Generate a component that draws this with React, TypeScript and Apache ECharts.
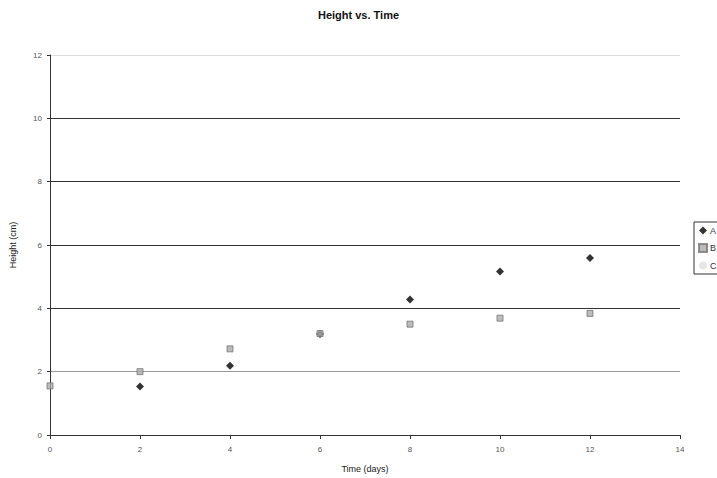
import React, { useEffect, useRef } from "react";
import * as echarts from "echarts";

const xTicks = [0, 2, 4, 6, 8, 10, 12, 14];
const seriesA: [number, number][] = [
  [2, 1.53],
  [4, 2.19],
  [6, 3.19],
  [8, 4.28],
  [10, 5.16],
  [12, 5.59],
];
const seriesB: [number, number][] = [
  [0, 1.55],
  [2, 2.0],
  [4, 2.72],
  [6, 3.2],
  [8, 3.5],
  [10, 3.69],
  [12, 3.84],
];
const seriesNames = ["A", "B", "C"];

export default function App() {
  const ref = useRef<HTMLDivElement>(null);
  useEffect(() => {
    if (!ref.current) return;
    const chart = echarts.init(ref.current, null, { renderer: "svg" });
    const font = "Liberation Sans, Arial, sans-serif";
    chart.setOption({
      animation: false,
      backgroundColor: "#ffffff",
      title: {
        text: "Height vs. Time",
        left: "center",
        top: 4,
        textStyle: { fontSize: 11, fontWeight: "bold", color: "#111", fontFamily: font },
      },
      legend: {
        orient: "vertical",
        left: 694,
        top: 222,
        itemWidth: 8,
        itemHeight: 8,
        itemGap: 8,
        padding: [4, 2, 4, 4],
        borderColor: "#333",
        borderWidth: 1,
        textStyle: { fontSize: 9, color: "#333", fontFamily: font, padding: [0, 0, 0, -2] },
        data: seriesNames,
      },
      grid: { left: 46, right: 37, top: 55, bottom: 41, containLabel: false },
      xAxis: {
        type: "value",
        min: 0,
        max: 14,
        interval: 2,
        name: "Time (days)",
        nameLocation: "middle",
        nameGap: 29,
        nameTextStyle: { fontSize: 9, color: "#222", fontFamily: font },
        axisLine: { lineStyle: { color: "#333", width: 1 } },
        axisTick: { show: true, length: 4, inside: false, lineStyle: { color: "#333" } },
        axisLabel: { fontSize: 8, color: "#555", fontFamily: font, margin: 10 },
        splitLine: { show: false },
        data: xTicks,
      },
      yAxis: {
        type: "value",
        min: 0,
        max: 12,
        interval: 2,
        name: "Height (cm)",
        nameLocation: "middle",
        nameGap: 33,
        nameTextStyle: { fontSize: 9, color: "#222", fontFamily: font },
        axisLine: { show: true, lineStyle: { color: "#333", width: 1 } },
        axisTick: { show: true, length: 3, lineStyle: { color: "#333" } },
        axisLabel: { fontSize: 8, color: "#555", fontFamily: font, margin: 8 },
        splitLine: {
          show: true,
          lineStyle: {
            color: ["#555", "#9a9a9a", "#333", "#333", "#333", "#333", "#dddddd"],
            width: 1,
          },
        },
      },
      series: [
        {
          name: "A",
          type: "scatter",
          symbol: "diamond",
          symbolSize: 8,
          itemStyle: { color: "#000" },
          data: seriesA,
          z: 3,
        },
        {
          name: "B",
          type: "scatter",
          symbol: "rect",
          symbolSize: 6,
          itemStyle: { color: "#aaa", borderColor: "#777", borderWidth: 1 },
          data: seriesB,
          z: 4,
        },
        {
          name: "C",
          type: "scatter",
          symbol: "circle",
          symbolSize: 5,
          itemStyle: { color: "#e0e0e0" },
          data: [],
        },
      ],
    });
    return () => chart.dispose();
  }, []);
  return <div ref={ref} style={{ width: 717, height: 478, position: "absolute", left: 0, top: 0 }} />;
}
